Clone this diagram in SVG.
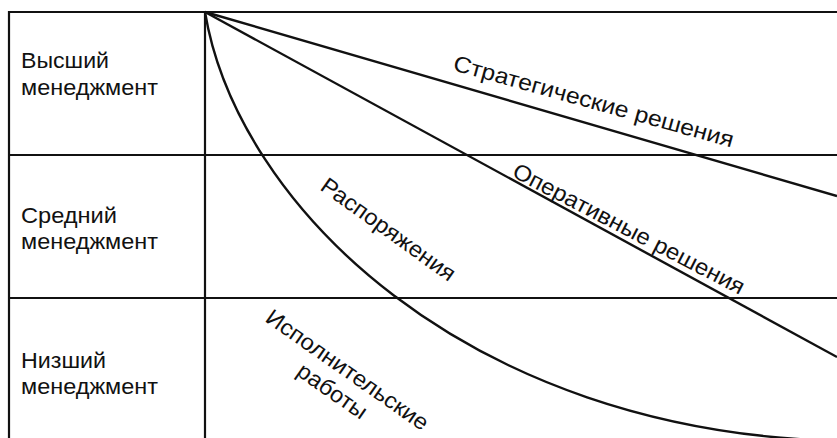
<svg xmlns="http://www.w3.org/2000/svg" width="837" height="438" viewBox="0 0 837 438">
  <style>
    .grid { stroke: #111; stroke-width: 2.2; fill: none; }
    .conn { stroke: #111; stroke-width: 2.4; fill: none; }
    .lbl { font-family: "Liberation Sans", Arial, sans-serif; font-size: 22.5px; fill: #111; }
  </style>
  <rect x="0" y="0" width="837" height="438" fill="#fff"/>
  <g id="grid">
    <line class="grid" x1="9" y1="12" x2="837" y2="12"/>
    <line class="grid" x1="9" y1="11" x2="9" y2="438"/>
    <line class="grid" x1="205" y1="11" x2="205" y2="438"/>
    <line class="grid" x1="9" y1="155" x2="837" y2="155"/>
    <line class="grid" x1="9" y1="298" x2="837" y2="298"/>
  </g>
  <g id="node-top">
    <text class="lbl" x="21" y="68" textLength="88" lengthAdjust="spacingAndGlyphs">Высший</text>
    <text class="lbl" x="21" y="95" textLength="137" lengthAdjust="spacingAndGlyphs">менеджмент</text>
  </g>
  <g id="node-middle">
    <text class="lbl" x="21" y="223" textLength="96" lengthAdjust="spacingAndGlyphs">Средний</text>
    <text class="lbl" x="21" y="249" textLength="137" lengthAdjust="spacingAndGlyphs">менеджмент</text>
  </g>
  <g id="node-bottom">
    <text class="lbl" x="21" y="368" textLength="85" lengthAdjust="spacingAndGlyphs">Низший</text>
    <text class="lbl" x="21" y="394" textLength="137" lengthAdjust="spacingAndGlyphs">менеджмент</text>
  </g>
  <g id="connectors">
    <line class="conn" x1="205" y1="12" x2="837" y2="196"/>
    <line class="conn" x1="205" y1="12" x2="837" y2="357"/>
    <path class="conn" d="M205,12 C237,205 465,432 840,441"/>
  </g>
  <g id="labels">
    <text class="lbl" transform="translate(452,70) rotate(15.5)" textLength="290" lengthAdjust="spacingAndGlyphs">Стратегические решения</text>
    <text class="lbl" transform="translate(511,176) rotate(27.5)" textLength="258" lengthAdjust="spacingAndGlyphs">Оперативные решения</text>
    <text class="lbl" transform="translate(319,189) rotate(35.7)" textLength="160" lengthAdjust="spacingAndGlyphs">Распоряжения</text>
    <g transform="translate(343,376) rotate(35)">
      <text class="lbl" x="0" y="0" text-anchor="middle" textLength="193" lengthAdjust="spacingAndGlyphs">Исполнительские</text>
      <text class="lbl" x="0" y="26" text-anchor="middle" textLength="80" lengthAdjust="spacingAndGlyphs">работы</text>
    </g>
  </g>
</svg>
